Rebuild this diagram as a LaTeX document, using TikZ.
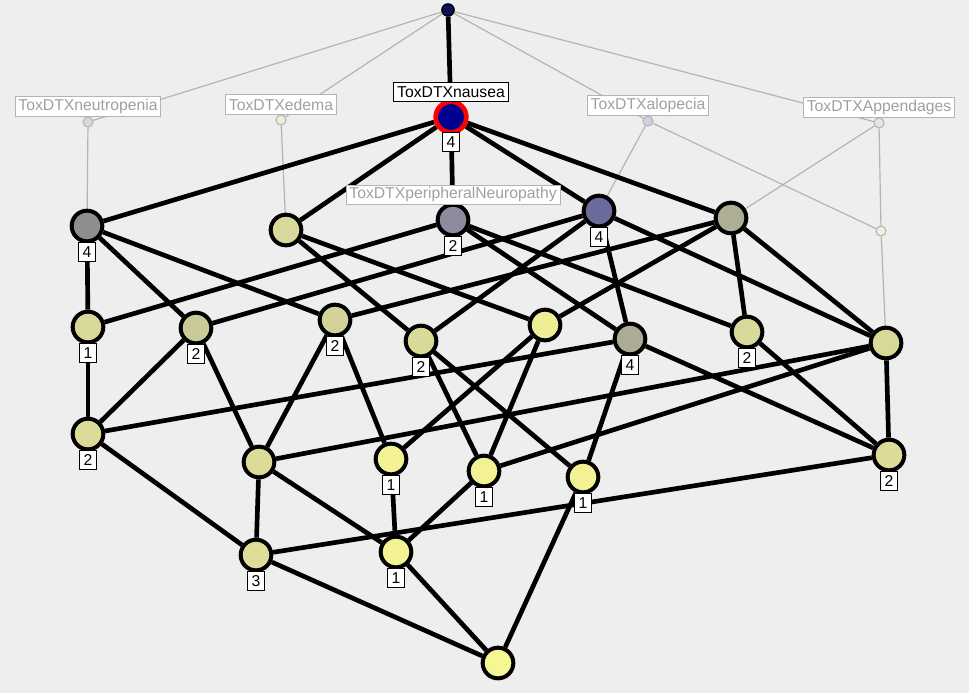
\documentclass[tikz,border=0pt]{standalone}
\usepackage{fontspec}
\setmainfont{Liberation Sans}
\usepackage{xcolor}
\usepackage{tikz}
\usetikzlibrary{positioning,backgrounds}

\definecolor{bgc}{HTML}{EEEEEE}
\definecolor{lgray}{HTML}{B4B4B4}
\definecolor{gtext}{HTML}{A0A0A0}
\definecolor{topc}{HTML}{0A0A60}
\definecolor{nausc}{HTML}{000090}
\definecolor{olive}{HTML}{D8D89A}
\definecolor{pale}{HTML}{F2F294}

\begin{document}
\begin{tikzpicture}[
    x=0.75pt, y=-0.75pt,
    font=\fontsize{11.8}{13}\selectfont,
    conc/.style={circle, draw, line width=3pt, minimum size=23pt, inner sep=0pt},
    attr/.style={circle, draw=lgray, line width=0.8pt, minimum size=7.5pt, inner sep=0pt},
    cnt/.style={draw, fill=white, line width=0.6pt, minimum width=12.5pt, minimum height=14.5pt, inner sep=0.5pt},
    tag/.style={draw, fill=white, line width=0.6pt, minimum height=14.5pt, inner xsep=2.5pt, inner ysep=0pt},
    gtag/.style={tag, draw=lgray, text=gtext},
    edge/.style={line width=3.5pt},
    gedge/.style={lgray, line width=0.9pt}
]
\useasboundingbox (0,0) rectangle (969,693);

\node[circle, draw, fill=topc, line width=1.2pt, minimum size=9pt, inner sep=0pt] (top) at (448,10) {};
\node[attr, fill={rgb,255:red,216;green,216;blue,216}] (neu) at (88,122) {};
\node[attr, fill={rgb,255:red,238;green,238;blue,220}] (ede) at (281,120) {};
\node[attr, fill={rgb,255:red,208;green,208;blue,224}] (alo) at (648,121) {};
\node[attr, fill={rgb,255:red,230;green,230;blue,226}] (app) at (879,123) {};
\node[attr, fill={rgb,255:red,238;green,238;blue,220}] (gx) at (881,231) {};
\node[gtag, above=0pt of neu] (neuL) {ToxDTXneutropenia};
\node[gtag, above=0pt of ede] (edeL) {ToxDTXedema};
\node[gtag, above=0pt of alo] (aloL) {ToxDTXalopecia};
\node[gtag, above=0pt of app] (appL) {ToxDTXAppendages};

\node[conc, draw=red, line width=3.5pt, fill=nausc] (naus) at (451,117) {};
\node[tag, above=-2pt of naus] (nausL) {ToxDTXnausea};
\node[cnt, below=-2pt of naus] {4};

\node[conc, fill={rgb,255:red,142;green,142;blue,144}] (a1) at (87,226) {};
\node[conc, fill=olive] (a2) at (286,230) {};
\node[conc, fill={rgb,255:red,140;green,140;blue,156}] (a3) at (453,220) {};
\node[conc, fill={rgb,255:red,106;green,106;blue,156}] (a4) at (599,211) {};
\node[conc, fill={rgb,255:red,174;green,174;blue,150}] (a5) at (731,218) {};
\node[gtag, above=-1.5pt of a3] (perL) {ToxDTXperipheralNeuropathy};
\node[cnt, below=-1pt of a1] {4};
\node[cnt, below=-1pt of a3] {2};
\node[cnt, below=-1pt of a4] {4};

\node[conc, fill=olive] (b1) at (88,327) {};
\node[conc, fill={rgb,255:red,202;green,202;blue,150}] (b2) at (196,328) {};
\node[conc, fill={rgb,255:red,210;green,210;blue,154}] (b3) at (335,320) {};
\node[conc, fill={rgb,255:red,218;green,218;blue,152}] (b4) at (421,341) {};
\node[conc, fill={rgb,255:red,238;green,238;blue,148}] (b5) at (545,325) {};
\node[conc, fill={rgb,255:red,172;green,172;blue,150}] (b6) at (630,339) {};
\node[conc, fill=olive] (b7) at (747,332) {};
\node[conc, fill=olive] (b8) at (886,343) {};
\node[cnt, below=-1pt of b1] {1};
\node[cnt, below=-1pt of b2] {2};
\node[cnt, below=-1pt of b3] {2};
\node[cnt, below=-1pt of b4] {2};
\node[cnt, below=-1pt of b6] {4};
\node[cnt, below=-1pt of b7] {2};

\node[conc, fill={rgb,255:red,220;green,220;blue,152}] (c1) at (88,434) {};
\node[conc, fill={rgb,255:red,220;green,220;blue,152}] (c2) at (259,462) {};
\node[conc, fill=pale] (c3) at (391,459) {};
\node[conc, fill=pale] (c4) at (484,471) {};
\node[conc, fill=pale] (c5) at (583,477) {};
\node[conc, fill={rgb,255:red,220;green,220;blue,152}] (c6) at (889,455) {};
\node[cnt, below=-1pt of c1] {2};
\node[cnt, below=-1pt of c3] {1};
\node[cnt, below=-1pt of c4] {1};
\node[cnt, below=-1pt of c5] {1};
\node[cnt, below=-1pt of c6] {2};

\node[conc, fill={rgb,255:red,222;green,222;blue,152}] (d1) at (256,555) {};
\node[conc, fill=pale] (d2) at (396,552) {};
\node[cnt, below=-1pt of d1] {3};
\node[cnt, below=-1pt of d2] {1};

\node[conc, fill={rgb,255:red,246;green,246;blue,148}] (bot) at (498,663) {};

\begin{scope}[on background layer]
\fill[bgc] (0,0) rectangle (969,693);
\draw[gedge] (top) -- (neu);
\draw[gedge] (top) -- (ede);
\draw[gedge] (top) -- (alo);
\draw[gedge] (top) -- (app);
\draw[gedge] (neu) -- (a1);
\draw[gedge] (ede) -- (a2);
\draw[gedge] (alo) -- (a4);
\draw[gedge] (alo) -- (gx);
\draw[gedge] (app) -- (a5);
\draw[gedge] (app) -- (gx);
\draw[gedge] (gx) -- (b8);

\draw[edge] (top) -- (naus);
\draw[edge] (naus) -- (a1);
\draw[edge] (naus) -- (a2);
\draw[edge] (naus) -- (a3);
\draw[edge] (naus) -- (a4);
\draw[edge] (naus) -- (a5);
\draw[edge] (a1) -- (b1);
\draw[edge] (a1) -- (b2);
\draw[edge] (a1) -- (b3);
\draw[edge] (a2) -- (b4);
\draw[edge] (a2) -- (b5);
\draw[edge] (a3) -- (b1);
\draw[edge] (a3) -- (b6);
\draw[edge] (a3) -- (b7);
\draw[edge] (a4) -- (b2);
\draw[edge] (a4) -- (b4);
\draw[edge] (a4) -- (b6);
\draw[edge] (a4) -- (b8);
\draw[edge] (a5) -- (b3);
\draw[edge] (a5) -- (b5);
\draw[edge] (a5) -- (b7);
\draw[edge] (a5) -- (b8);
\draw[edge] (b1) -- (c1);
\draw[edge] (b2) -- (c1);
\draw[edge] (b2) -- (c2);
\draw[edge] (b3) -- (c2);
\draw[edge] (b3) -- (c3);
\draw[edge] (b4) -- (c4);
\draw[edge] (b4) -- (c5);
\draw[edge] (b5) -- (c3);
\draw[edge] (b5) -- (c4);
\draw[edge] (b6) -- (c1);
\draw[edge] (b6) -- (c5);
\draw[edge] (b6) -- (c6);
\draw[edge] (b7) -- (c6);
\draw[edge] (b8) -- (c2);
\draw[edge] (b8) -- (c4);
\draw[edge] (b8) -- (c6);
\draw[edge] (c1) -- (d1);
\draw[edge] (c2) -- (d1);
\draw[edge] (c2) -- (d2);
\draw[edge] (c3) -- (d2);
\draw[edge] (c4) -- (d2);
\draw[edge] (c5) -- (bot);
\draw[edge] (c6) -- (d1);
\draw[edge] (d1) -- (bot);
\draw[edge] (d2) -- (bot);
\end{scope}
\end{tikzpicture}
\end{document}
